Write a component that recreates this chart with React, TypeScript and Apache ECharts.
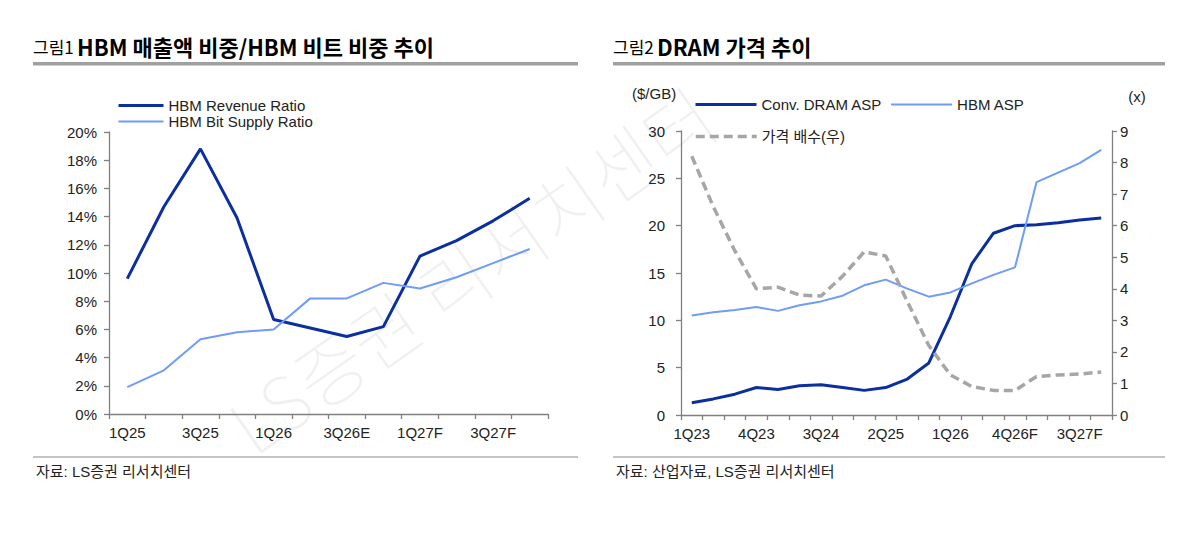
import React, { useEffect, useRef } from 'react';
import * as echarts from 'echarts';

const FONT = "'Liberation Sans Narrow', 'Liberation Sans', Arial, 'Noto Sans CJK KR', sans-serif";
const KR_FONT = "'Noto Sans CJK KR', 'Noto Sans', sans-serif";

// 그림1: HBM 매출액 비중 / 비트 비중 (%)
const leftCategories = ['1Q25', '2Q25', '3Q25', '4Q25', '1Q26', '2Q26E', '3Q26E', '4Q26E', '1Q27F', '2Q27F', '3Q27F', '4Q27F'];
const revenueRatio = [9.6, 14.7, 18.8, 13.9, 6.7, 6.1, 5.5, 6.2, 11.2, 12.3, 13.7, 15.3];
const bitSupplyRatio = [1.9, 3.1, 5.3, 5.8, 6.0, 8.2, 8.2, 9.3, 8.9, 9.7, 10.7, 11.7];

// 그림2: DRAM 가격 추이 ($/GB, 배수)
const rightCategories = [
  '1Q23', '2Q23', '3Q23', '4Q23', '1Q24', '2Q24', '3Q24', '4Q24', '1Q25', '2Q25',
  '3Q25', '4Q25', '1Q26', '2Q26F', '3Q26F', '4Q26F', '1Q27F', '2Q27F', '3Q27F', '4Q27F'
];
const convDramAsp = [1.3, 1.7, 2.2, 2.9, 2.7, 3.1, 3.2, 2.9, 2.6, 2.9, 3.8, 5.5, 10.4, 16.0, 19.2, 20.0, 20.1, 20.3, 20.6, 20.8];
const hbmAsp = [10.5, 10.85, 11.1, 11.4, 11.0, 11.6, 12.0, 12.6, 13.7, 14.3, 13.35, 12.5, 12.95, 13.9, 14.8, 15.6, 24.6, 25.6, 26.6, 28.0];
const priceMultiple = [8.2, 6.6, 5.2, 4.0, 4.05, 3.8, 3.77, 4.4, 5.17, 5.04, 3.6, 2.2, 1.27, 0.9, 0.78, 0.78, 1.22, 1.27, 1.3, 1.36];

const DARK = '#0b2f9f';
const LIGHT = '#6e9cf7';
const GREY = '#a6a6a6';
const AXIS = '#808080';

const axisLine = { show: true, lineStyle: { color: AXIS, width: 1.3 } };
const axisTick = { show: true, length: 5, lineStyle: { color: AXIS, width: 1.3 } };
const label = { color: '#222', fontSize: 15, fontFamily: FONT };

const legendBase = {
  padding: 0, itemHeight: 14, selectedMode: false,
  itemStyle: { opacity: 0 }, textStyle: label
};

const title = (x: number, no: string, text: string) => ({
  type: 'text',
  style: {
    x,
    y: 46,
    text: `{a|${no}} {b|${text}}`,
    verticalAlign: 'middle',
    rich: {
      a: { fontSize: 17, color: '#8c8c8c', fontFamily: KR_FONT },
      b: { fontSize: 22, fontWeight: 'bold', color: '#111', fontFamily: KR_FONT }
    }
  }
});

const plainText = (x: number, y: number, text: string, align = 'left') => ({
  type: 'text',
  style: { x, y, text, fill: '#222', fontSize: 15, fontFamily: FONT, align, verticalAlign: 'middle' }
});

export default function App() {
  const chartRef = useRef<HTMLDivElement>(null);

  useEffect(() => {
    document.body.style.margin = '0';
    if (!chartRef.current) return;
    const chart = echarts.init(chartRef.current, undefined, { renderer: 'svg' });

    const option: any = {
      animation: false,
      backgroundColor: '#fff',
      grid: [
        { left: 109, top: 132, width: 439, height: 282 },
        { left: 681, top: 131, width: 431, height: 284 }
      ],
      legend: [
        {
          ...legendBase,
          data: [
            { name: 'HBM Revenue Ratio', lineStyle: { width: 3 } },
            { name: 'HBM Bit Supply Ratio', lineStyle: { width: 2 } }
          ],
          orient: 'vertical', left: 117, top: 98, itemWidth: 45, itemGap: 1
        },
        {
          ...legendBase,
          data: [
            { name: 'Conv. DRAM ASP', lineStyle: { width: 3 } },
            { name: 'HBM ASP', lineStyle: { width: 2 } }
          ],
          left: 694, top: 97, itemWidth: 61, itemGap: 8
        },
        {
          ...legendBase,
          data: [{ name: '가격 배수(우)', lineStyle: { width: 3.5 } }],
          left: 694, top: 129, itemWidth: 61
        }
      ],
      xAxis: [
        {
          type: 'category', gridIndex: 0, data: leftCategories, boundaryGap: true,
          axisLine, axisTick: { ...axisTick, interval: 0 },
          axisLabel: { ...label, interval: 1, margin: 11 }
        },
        {
          type: 'category', gridIndex: 1, data: rightCategories, boundaryGap: true,
          axisLine, axisTick: { ...axisTick, interval: 0 },
          axisLabel: { ...label, interval: 2, margin: 11 }
        }
      ],
      yAxis: [
        {
          type: 'value', gridIndex: 0, min: 0, max: 20, interval: 2,
          axisLine, axisTick, splitLine: { show: false },
          axisLabel: { ...label, formatter: '{value}%', margin: 12 }
        },
        {
          type: 'value', gridIndex: 1, min: 0, max: 30, interval: 5,
          axisLine, axisTick, splitLine: { show: false },
          axisLabel: { ...label, margin: 16 }
        },
        {
          type: 'value', gridIndex: 1, position: 'right', min: 0, max: 9, interval: 1,
          axisLine, axisTick, splitLine: { show: false },
          axisLabel: { ...label, margin: 8 }
        }
      ],
      series: [
        {
          name: 'HBM Revenue Ratio', type: 'line', xAxisIndex: 0, yAxisIndex: 0, data: revenueRatio,
          symbol: 'none', color: DARK, lineStyle: { width: 3, color: DARK }
        },
        {
          name: 'HBM Bit Supply Ratio', type: 'line', xAxisIndex: 0, yAxisIndex: 0, data: bitSupplyRatio,
          symbol: 'none', color: LIGHT, lineStyle: { width: 2, color: LIGHT }
        },
        {
          name: 'Conv. DRAM ASP', type: 'line', xAxisIndex: 1, yAxisIndex: 1, data: convDramAsp,
          symbol: 'none', color: DARK, lineStyle: { width: 3, color: DARK }
        },
        {
          name: 'HBM ASP', type: 'line', xAxisIndex: 1, yAxisIndex: 1, data: hbmAsp,
          symbol: 'none', color: LIGHT, lineStyle: { width: 2, color: LIGHT }
        },
        {
          name: '가격 배수(우)', type: 'line', xAxisIndex: 1, yAxisIndex: 2, data: priceMultiple,
          symbol: 'none', color: GREY, lineStyle: { width: 3.5, color: GREY, type: [9, 5] }
        }
      ],
      graphic: [
        {
          type: 'text', x: 470, y: 268, rotation: 0.61, z: -10,
          style: {
            text: 'LS증권 리서치센터', fontSize: 74, fontWeight: 100, fontFamily: KR_FONT,
            fill: '#f0f0f0', align: 'center', verticalAlign: 'middle'
          }
        },
        title(33, '그림1', 'HBM 매출액 비중/HBM 비트 비중 추이'),
        title(613, '그림2', 'DRAM 가격 추이'),
        { type: 'rect', shape: { x: 33, y: 62, width: 545, height: 3.5 }, style: { fill: '#a0a0a0' } },
        { type: 'rect', shape: { x: 613, y: 62, width: 552, height: 3.5 }, style: { fill: '#a0a0a0' } },
        { type: 'line', shape: { x1: 33, y1: 457, x2: 578, y2: 457 }, style: { stroke: '#888', lineWidth: 1 } },
        { type: 'line', shape: { x1: 613, y1: 457, x2: 1165, y2: 457 }, style: { stroke: '#888', lineWidth: 1 } },
        plainText(36, 471, '자료: LS증권 리서치센터'),
        plainText(616, 471, '자료: 산업자료, LS증권 리서치센터'),
        plainText(632, 93, '($/GB)'),
        plainText(1137, 96, '(x)', 'center')
      ]
    };

    chart.setOption(option);
    return () => chart.dispose();
  }, []);

  return <div ref={chartRef} style={{ width: 1200, height: 539 }} />;
}
